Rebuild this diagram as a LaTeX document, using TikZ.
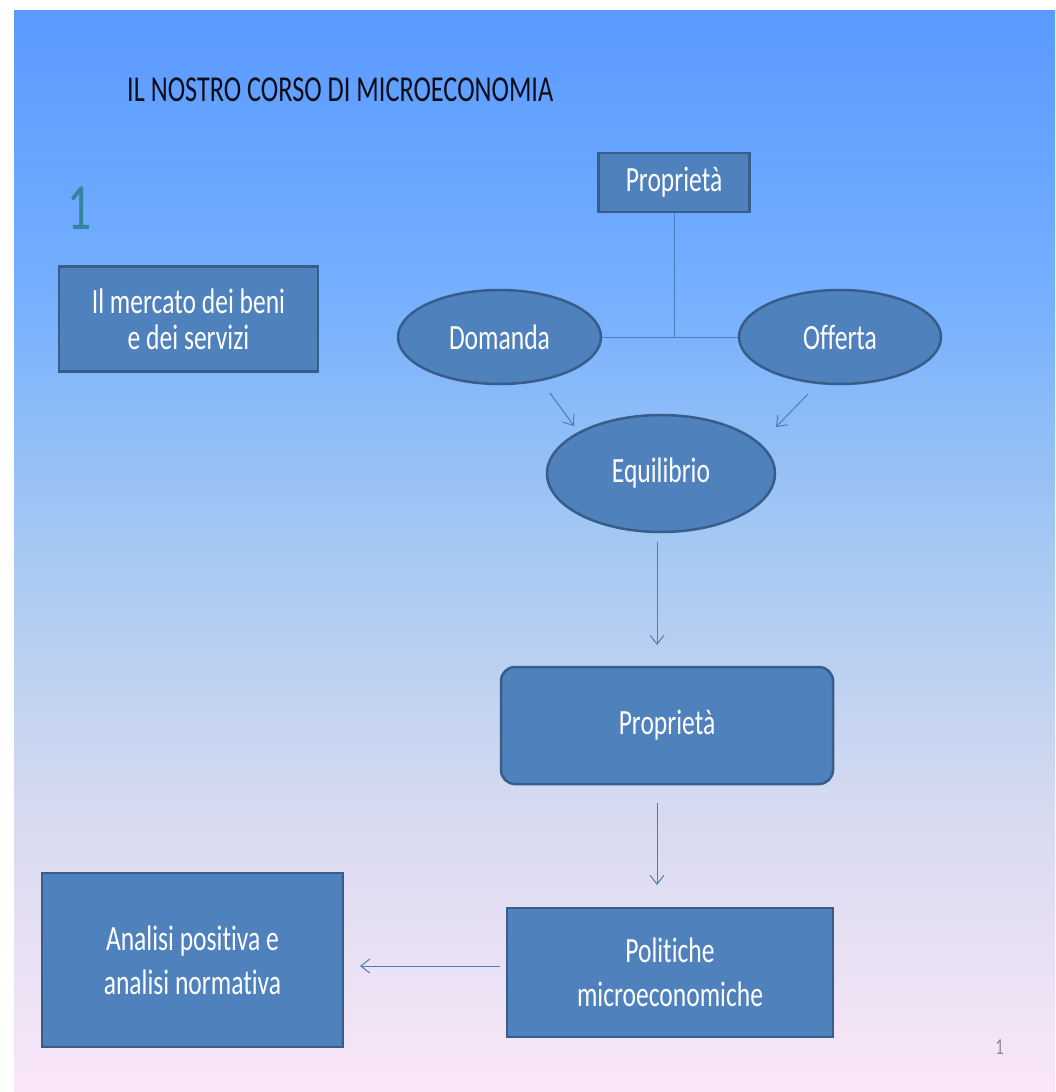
\documentclass[tikz,border=0pt]{standalone}
\usepackage{fontspec}
\setmainfont{Carlito}[FakeStretch=0.72, RawFeature={-liga}]
\usetikzlibrary{shapes.geometric,arrows.meta}
\definecolor{boxfill}{HTML}{4F81BD}
\definecolor{boxline}{HTML}{385D8A}
\definecolor{conn}{HTML}{4A7EBB}
\definecolor{titlecol}{HTML}{0D0D1A}
\definecolor{tealnum}{HTML}{31859C}
\definecolor{pagenum}{HTML}{8C8A90}
\definecolor{bgA}{HTML}{FAE6F8}
\definecolor{bgB}{HTML}{D8DBF0}
\definecolor{bgC}{HTML}{A6C9F2}
\definecolor{bgD}{HTML}{73AEFF}
\definecolor{bgE}{HTML}{5A9AFF}
\pgfdeclareverticalshading{slidebg}{100bp}{color(0bp)=(bgA); color(25bp)=(bgA); color(37.5bp)=(bgB); color(50bp)=(bgC); color(62.5bp)=(bgD); color(75bp)=(bgE); color(100bp)=(bgE)}
\begin{document}
\begin{tikzpicture}[x=1pt,y=-1pt,
  boxsq/.style={draw=boxline, line width=2.5pt, fill=boxfill, text=white, inner sep=0pt, align=center, font=\fontsize{35.5}{36}\selectfont},
  boxtwo/.style={boxsq, font=\fontsize{35.5}{44}\selectfont},
  boxround/.style={boxsq, rounded corners=14pt},
  ell/.style={ellipse, draw=boxline, line width=2.5pt, fill=boxfill, text=white, inner sep=0pt, font=\fontsize{35.5}{36}\selectfont},
  conline/.style={draw=conn, line width=1pt},
  arr/.style={conline, -{Straight Barb[length=9pt,width=14pt]}}]
\useasboundingbox (0,0) rectangle (1055,1092);
\fill[white] (0,0) rectangle (1055,1092);
\shade[shading=slidebg] (14,10) rectangle (1055,1092);

\node[anchor=base west, inner sep=0pt, text=titlecol, font=\fontsize{36.5}{40}\selectfont] (title) at (127,101) {IL NOSTRO CORSO DI MICROECONOMIA};
\node[anchor=base west, inner sep=0pt, text=tealnum, font=\fontsize{66}{70}\selectfont] (num) at (67,229) {1};
\node[anchor=base, inner sep=0pt, text=pagenum, font=\fontsize{23}{24}\selectfont] (pg) at (999.5,1054) {1};

\node[boxsq, minimum width=259pt, minimum height=105pt] (merc) at (188.5,319) {Il mercato dei beni\\e dei servizi};
\node[boxsq, minimum width=151pt, minimum height=59pt] (prop1) at (674,182.5) {Proprietà};
\node[ell, minimum width=203pt, minimum height=94pt] (dom) at (499.5,337) {Domanda};
\node[ell, minimum width=202pt, minimum height=94pt] (off) at (840,337) {Offerta};
\node[ell, minimum width=228pt, minimum height=117pt] (eq) at (661,473.5) {Equilibrio};
\node[boxround, minimum width=332pt, minimum height=117pt] (prop2) at (667,725.5) {Proprietà};
\node[boxtwo, minimum width=326pt, minimum height=129pt] (pol) at (670,972.5) {Politiche\\microeconomiche};
\node[boxtwo, minimum width=301pt, minimum height=174pt] (anal) at (192.5,960) {Analisi positiva e\\analisi normativa};

% connectors
\draw[conline] (prop1.south) -- (prop1.south |- dom.east);
\draw[conline] (dom.east) -- (off.west);

\coordinate (d1) at (550,393); \coordinate (d2) at (574,426);
\coordinate (o1) at (808,394); \coordinate (o2) at (776,427);
\coordinate (e1) at (657,542); \coordinate (e2) at (657,645);
\coordinate (p1) at (657,803); \coordinate (p2) at (657,885);
\coordinate (l1) at (500,966); \coordinate (l2) at (360,966);
\draw[arr] (d1) -- (d2);
\draw[arr] (o1) -- (o2);
\draw[arr] (e1) -- (e2);
\draw[arr] (p1) -- (p2);
\draw[arr] (l1) -- (l2);
\end{tikzpicture}
\end{document}
